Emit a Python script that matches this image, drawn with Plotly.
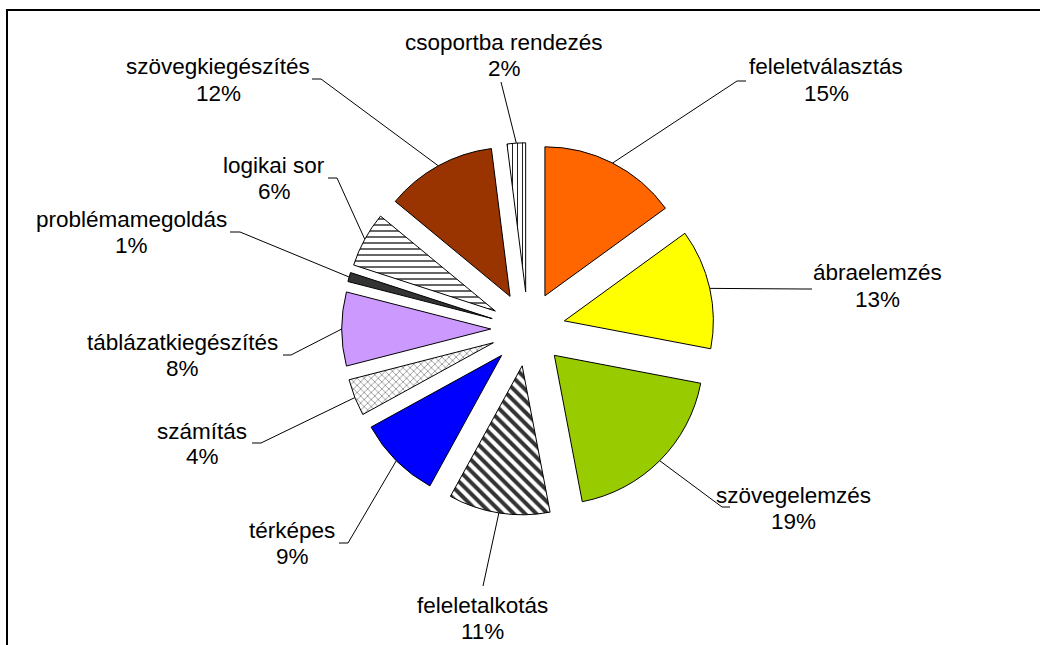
import math
import plotly.graph_objects as go

# ---------------- data ----------------
labels = ["feleletválasztás", "ábraelemzés", "szövegelemzés", "feleletalkotás",
          "térképes", "számítás", "táblázatkiegészítés", "problémamegoldás",
          "logikai sor", "szövegkiegészítés", "csoportba rendezés"]
values = [15, 13, 19, 11, 9, 4, 8, 1, 6, 12, 2]

# ---------------- styles ----------------
colors = ["#FF6600", "#FFFF00", "#99CC00", "#FFFFFF", "#0000FF", "#FFFFFF",
          "#CC99FF", "#333333", "#FFFFFF", "#993300", "#FFFFFF"]
pat_shape = ["", "", "", "\\", "", "x", "", "", "-", "", "|"]
pat_fg = ["#000", "#000", "#000", "#333333", "#000", "#777777", "#000", "#000",
          "#555555", "#000", "#222222"]
pat_size = [8, 8, 8, 8, 8, 5, 8, 8, 6, 8, 5]
pat_sol = [0.3, 0.3, 0.3, 0.5, 0.3, 0.25, 0.3, 0.3, 0.3, 0.3, 0.2]

W, H = 1040, 645
CX, CY = 528, 329          # pie centre (px)
R = 149                    # slice radius (px)
PULL = 0.25

# label layout (px): centre of first line, leader elbow, leader end
lab_x = [826, 877, 793, 482, 292, 202, 182, 131, 274, 218, 504]
lab_y1 = [67, 273, 495, 605, 530, 431, 342, 220, 165, 67, 42]
elbow = [(737, 81), (804, 289), (722, 507), (483, 586), (348, 543), (261, 443),
         (291, 355), (240, 232), (337, 178), (321, 79), (501, 82)]
tick_end = [(746, 81), (812, 289), (730, 507), (483, 586), (339, 543), (252, 443),
            (283, 355), (230, 232), (328, 178), (312, 79), (501, 82)]
LINE_GAP = 26

def px(x):
    return x / W

def py(y):
    return 1 - y / H

half = R * (1 + PULL)
fig = go.Figure(go.Pie(
    labels=labels, values=values, sort=False, direction="clockwise", rotation=0,
    pull=[PULL] * len(values),
    marker=dict(colors=colors, line=dict(color="black", width=1),
                pattern=dict(shape=pat_shape, fgcolor=pat_fg, bgcolor=colors,
                             size=pat_size, solidity=pat_sol)),
    textinfo="none", hoverinfo="skip", showlegend=False,
    domain=dict(x=[(CX - half) / W, (CX + half) / W],
                y=[(H - CY - half) / H, (H - CY + half) / H]),
))

total = sum(values)
shapes = []
annotations = []
cum = 0
font = dict(family="Arial, Liberation Sans, sans-serif", size=22.5, color="black")
for i, v in enumerate(values):
    mid = (cum + v / 2) / total * 2 * math.pi
    cum += v
    rr = R * (1 + PULL)
    sx = CX + rr * math.sin(mid)
    sy = CY - rr * math.cos(mid)
    ex, ey = elbow[i]
    tx, ty = tick_end[i]
    path = f"M {px(sx)} {py(sy)} L {px(ex)} {py(ey)} L {px(tx)} {py(ty)}"
    shapes.append(dict(type="path", xref="paper", yref="paper", path=path,
                       line=dict(color="black", width=1)))
    pct = round(v / total * 100)
    annotations.append(dict(x=px(lab_x[i]), y=py(lab_y1[i]), xref="paper", yref="paper",
                            text=labels[i], showarrow=False, font=font,
                            xanchor="center", yanchor="middle"))
    annotations.append(dict(x=px(lab_x[i]), y=py(lab_y1[i] + LINE_GAP), xref="paper",
                            yref="paper", text=f"{pct}%", showarrow=False, font=font,
                            xanchor="center", yanchor="middle"))

# chart border
shapes.append(dict(type="rect", xref="paper", yref="paper",
                   x0=px(7), y0=-0.05, x1=1.05, y1=py(10),
                   line=dict(color="black", width=2)))

fig.update_layout(width=W, height=H, margin=dict(l=0, r=0, t=0, b=0),
                  paper_bgcolor="white", plot_bgcolor="white",
                  shapes=shapes, annotations=annotations)
fig.write_html("out.html", config={"displayModeBar": False},
               post_script="document.body.style.margin='0px';"
                           "document.body.style.overflow='hidden';")
